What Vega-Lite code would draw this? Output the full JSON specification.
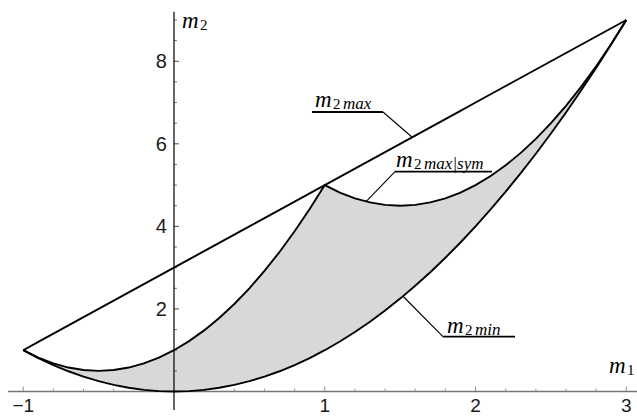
{
  "$schema": "https://vega.github.io/schema/vega-lite/v6.json",
  "width": 637,
  "height": 417,
  "padding": 0,
  "autosize": {"type": "none"},
  "background": "white",
  "config": {"view": {"stroke": null}},
  "datasets": {
    "curves": [
      {"m1": -1.0, "min": 1.00, "sym": 1.00, "max": 1.0},
      {"m1": -0.9, "min": 0.81, "sym": 0.82, "max": 1.2},
      {"m1": -0.8, "min": 0.64, "sym": 0.68, "max": 1.4},
      {"m1": -0.7, "min": 0.49, "sym": 0.58, "max": 1.6},
      {"m1": -0.6, "min": 0.36, "sym": 0.52, "max": 1.8},
      {"m1": -0.5, "min": 0.25, "sym": 0.50, "max": 2.0},
      {"m1": -0.4, "min": 0.16, "sym": 0.52, "max": 2.2},
      {"m1": -0.3, "min": 0.09, "sym": 0.58, "max": 2.4},
      {"m1": -0.2, "min": 0.04, "sym": 0.68, "max": 2.6},
      {"m1": -0.1, "min": 0.01, "sym": 0.82, "max": 2.8},
      {"m1": 0.0, "min": 0.00, "sym": 1.00, "max": 3.0},
      {"m1": 0.1, "min": 0.01, "sym": 1.22, "max": 3.2},
      {"m1": 0.2, "min": 0.04, "sym": 1.48, "max": 3.4},
      {"m1": 0.3, "min": 0.09, "sym": 1.78, "max": 3.6},
      {"m1": 0.4, "min": 0.16, "sym": 2.12, "max": 3.8},
      {"m1": 0.5, "min": 0.25, "sym": 2.50, "max": 4.0},
      {"m1": 0.6, "min": 0.36, "sym": 2.92, "max": 4.2},
      {"m1": 0.7, "min": 0.49, "sym": 3.38, "max": 4.4},
      {"m1": 0.8, "min": 0.64, "sym": 3.88, "max": 4.6},
      {"m1": 0.9, "min": 0.81, "sym": 4.42, "max": 4.8},
      {"m1": 1.0, "min": 1.00, "sym": 5.00, "max": 5.0},
      {"m1": 1.1, "min": 1.21, "sym": 4.82, "max": 5.2},
      {"m1": 1.2, "min": 1.44, "sym": 4.68, "max": 5.4},
      {"m1": 1.3, "min": 1.69, "sym": 4.58, "max": 5.6},
      {"m1": 1.4, "min": 1.96, "sym": 4.52, "max": 5.8},
      {"m1": 1.5, "min": 2.25, "sym": 4.50, "max": 6.0},
      {"m1": 1.6, "min": 2.56, "sym": 4.52, "max": 6.2},
      {"m1": 1.7, "min": 2.89, "sym": 4.58, "max": 6.4},
      {"m1": 1.8, "min": 3.24, "sym": 4.68, "max": 6.6},
      {"m1": 1.9, "min": 3.61, "sym": 4.82, "max": 6.8},
      {"m1": 2.0, "min": 4.00, "sym": 5.00, "max": 7.0},
      {"m1": 2.1, "min": 4.41, "sym": 5.22, "max": 7.2},
      {"m1": 2.2, "min": 4.84, "sym": 5.48, "max": 7.4},
      {"m1": 2.3, "min": 5.29, "sym": 5.78, "max": 7.6},
      {"m1": 2.4, "min": 5.76, "sym": 6.12, "max": 7.8},
      {"m1": 2.5, "min": 6.25, "sym": 6.50, "max": 8.0},
      {"m1": 2.6, "min": 6.76, "sym": 6.92, "max": 8.2},
      {"m1": 2.7, "min": 7.29, "sym": 7.38, "max": 8.4},
      {"m1": 2.8, "min": 7.84, "sym": 7.88, "max": 8.6},
      {"m1": 2.9, "min": 8.41, "sym": 8.42, "max": 8.8},
      {"m1": 3.0, "min": 9.00, "sym": 9.00, "max": 9.0}
    ],
    "axes": [
      {"axis": "x", "x": -1.10, "x2": 3.08, "y": 0, "y2": 0},
      {"axis": "y", "x": 0, "x2": 0, "y": -0.45, "y2": 9.2}
    ],
    "xticks": [
      {"v": -1, "major": true, "label": "−1"},
      {"v": -0.8, "major": false, "label": ""},
      {"v": -0.6, "major": false, "label": ""},
      {"v": -0.4, "major": false, "label": ""},
      {"v": -0.2, "major": false, "label": ""},
      {"v": 0.2, "major": false, "label": ""},
      {"v": 0.4, "major": false, "label": ""},
      {"v": 0.6, "major": false, "label": ""},
      {"v": 0.8, "major": false, "label": ""},
      {"v": 1, "major": true, "label": "1"},
      {"v": 1.2, "major": false, "label": ""},
      {"v": 1.4, "major": false, "label": ""},
      {"v": 1.6, "major": false, "label": ""},
      {"v": 1.8, "major": false, "label": ""},
      {"v": 2, "major": true, "label": "2"},
      {"v": 2.2, "major": false, "label": ""},
      {"v": 2.4, "major": false, "label": ""},
      {"v": 2.6, "major": false, "label": ""},
      {"v": 2.8, "major": false, "label": ""},
      {"v": 3, "major": true, "label": "3"}
    ],
    "yticks": [
      {"v": 0.5, "major": false, "label": ""},
      {"v": 1, "major": false, "label": ""},
      {"v": 1.5, "major": false, "label": ""},
      {"v": 2, "major": true, "label": "2"},
      {"v": 2.5, "major": false, "label": ""},
      {"v": 3, "major": false, "label": ""},
      {"v": 3.5, "major": false, "label": ""},
      {"v": 4, "major": true, "label": "4"},
      {"v": 4.5, "major": false, "label": ""},
      {"v": 5, "major": false, "label": ""},
      {"v": 5.5, "major": false, "label": ""},
      {"v": 6, "major": true, "label": "6"},
      {"v": 6.5, "major": false, "label": ""},
      {"v": 7, "major": false, "label": ""},
      {"v": 7.5, "major": false, "label": ""},
      {"v": 8, "major": true, "label": "8"},
      {"v": 8.5, "major": false, "label": ""},
      {"v": 9, "major": false, "label": ""}
    ],
    "leaders": [
      {"kind": "under", "x": 0.915, "y": 6.771, "x2": 1.386, "y2": 6.771},
      {"kind": "leader", "x": 1.386, "y": 6.771, "x2": 1.58, "y2": 6.16},
      {"kind": "under", "x": 1.466, "y": 5.325, "x2": 2.109, "y2": 5.325},
      {"kind": "leader", "x": 1.466, "y": 5.325, "x2": 1.274, "y2": 4.602},
      {"kind": "under", "x": 1.784, "y": 1.327, "x2": 2.262, "y2": 1.327},
      {"kind": "leader", "x": 1.784, "y": 1.327, "x2": 1.519, "y2": 2.307}
    ],
    "labels": [
      {"x": 0.935, "y": 6.892, "s1": "2", "s2": "max"},
      {"x": 1.473, "y": 5.439, "s1": "2", "s2": "max|sym"},
      {"x": 1.811, "y": 1.417, "s1": "2", "s2": "min"},
      {"x": 2.886, "y": 0.448, "s1": "1", "s2": ""},
      {"x": 0.053, "y": 8.806, "s1": "2", "s2": ""}
    ]
  },
  "layer": [
    {
      "data": {"name": "curves"},
      "mark": {"type": "area", "color": "#d8d8d8", "interpolate": "linear"},
      "encoding": {
        "x": {"field": "m1", "type": "quantitative", "scale": {"domain": [-1.154, 3.071], "nice": false, "zero": false}, "axis": null},
        "y": {"field": "sym", "type": "quantitative", "scale": {"domain": [-0.618, 9.484], "nice": false, "zero": false}, "axis": null},
        "y2": {"field": "min"}
      }
    },
    {
      "data": {"name": "axes"},
      "transform": [{"filter": "datum.axis == 'x'"}],
      "mark": {"type": "rule", "color": "#777777", "strokeWidth": 1.6},
      "encoding": {
        "x": {"field": "x", "type": "quantitative", "scale": {"domain": [-1.154, 3.071], "nice": false, "zero": false}, "axis": null},
        "x2": {"field": "x2"},
        "y": {"field": "y", "type": "quantitative", "scale": {"domain": [-0.618, 9.484], "nice": false, "zero": false}, "axis": null},
        "y2": {"field": "y2"}
      }
    },
    {
      "data": {"name": "xticks"},
      "transform": [{"filter": "datum.major"}],
      "mark": {"type": "tick", "orient": "vertical", "color": "#666666", "size": 5, "thickness": 1, "yOffset": -2.5},
      "encoding": {
        "x": {"field": "v", "type": "quantitative", "scale": {"domain": [-1.154, 3.071], "nice": false, "zero": false}, "axis": null},
        "y": {"datum": 0, "type": "quantitative", "scale": {"domain": [-0.618, 9.484], "nice": false, "zero": false}, "axis": null}
      }
    },
    {
      "data": {"name": "xticks"},
      "transform": [{"filter": "!datum.major"}],
      "mark": {"type": "tick", "orient": "vertical", "color": "#777777", "size": 3, "thickness": 1, "yOffset": -1.5},
      "encoding": {
        "x": {"field": "v", "type": "quantitative", "scale": {"domain": [-1.154, 3.071], "nice": false, "zero": false}, "axis": null},
        "y": {"datum": 0, "type": "quantitative", "scale": {"domain": [-0.618, 9.484], "nice": false, "zero": false}, "axis": null}
      }
    },
    {
      "data": {"name": "yticks"},
      "transform": [{"filter": "datum.major"}],
      "mark": {"type": "tick", "orient": "horizontal", "color": "#000000", "size": 5, "thickness": 1, "xOffset": 2.5},
      "encoding": {
        "x": {"datum": 0, "type": "quantitative", "scale": {"domain": [-1.154, 3.071], "nice": false, "zero": false}, "axis": null},
        "y": {"field": "v", "type": "quantitative", "scale": {"domain": [-0.618, 9.484], "nice": false, "zero": false}, "axis": null}
      }
    },
    {
      "data": {"name": "yticks"},
      "transform": [{"filter": "!datum.major"}],
      "mark": {"type": "tick", "orient": "horizontal", "color": "#333333", "size": 3, "thickness": 1, "xOffset": 1.5},
      "encoding": {
        "x": {"datum": 0, "type": "quantitative", "scale": {"domain": [-1.154, 3.071], "nice": false, "zero": false}, "axis": null},
        "y": {"field": "v", "type": "quantitative", "scale": {"domain": [-0.618, 9.484], "nice": false, "zero": false}, "axis": null}
      }
    },
    {
      "data": {"name": "axes"},
      "transform": [{"filter": "datum.axis == 'y'"}],
      "mark": {"type": "rule", "color": "#000000", "strokeWidth": 1.2},
      "encoding": {
        "x": {"field": "x", "type": "quantitative", "scale": {"domain": [-1.154, 3.071], "nice": false, "zero": false}, "axis": null},
        "x2": {"field": "x2"},
        "y": {"field": "y", "type": "quantitative", "scale": {"domain": [-0.618, 9.484], "nice": false, "zero": false}, "axis": null},
        "y2": {"field": "y2"}
      }
    },
    {
      "data": {"name": "curves"},
      "mark": {"type": "line", "color": "#000000", "strokeWidth": 1.9, "interpolate": "linear"},
      "encoding": {
        "x": {"field": "m1", "type": "quantitative", "scale": {"domain": [-1.154, 3.071], "nice": false, "zero": false}, "axis": null},
        "y": {"field": "min", "type": "quantitative", "scale": {"domain": [-0.618, 9.484], "nice": false, "zero": false}, "axis": null}
      }
    },
    {
      "data": {"name": "curves"},
      "mark": {"type": "line", "color": "#000000", "strokeWidth": 1.9, "interpolate": "linear"},
      "encoding": {
        "x": {"field": "m1", "type": "quantitative", "scale": {"domain": [-1.154, 3.071], "nice": false, "zero": false}, "axis": null},
        "y": {"field": "sym", "type": "quantitative", "scale": {"domain": [-0.618, 9.484], "nice": false, "zero": false}, "axis": null}
      }
    },
    {
      "data": {"name": "curves"},
      "mark": {"type": "line", "color": "#000000", "strokeWidth": 1.9, "interpolate": "linear"},
      "encoding": {
        "x": {"field": "m1", "type": "quantitative", "scale": {"domain": [-1.154, 3.071], "nice": false, "zero": false}, "axis": null},
        "y": {"field": "max", "type": "quantitative", "scale": {"domain": [-0.618, 9.484], "nice": false, "zero": false}, "axis": null}
      }
    },
    {
      "data": {"name": "leaders"},
      "transform": [{"filter": "datum.kind == 'under'"}],
      "mark": {"type": "rule", "color": "#000000", "strokeWidth": 1.8},
      "encoding": {
        "x": {"field": "x", "type": "quantitative", "scale": {"domain": [-1.154, 3.071], "nice": false, "zero": false}, "axis": null},
        "x2": {"field": "x2"},
        "y": {"field": "y", "type": "quantitative", "scale": {"domain": [-0.618, 9.484], "nice": false, "zero": false}, "axis": null},
        "y2": {"field": "y2"}
      }
    },
    {
      "data": {"name": "leaders"},
      "transform": [{"filter": "datum.kind == 'leader'"}],
      "mark": {"type": "rule", "color": "#000000", "strokeWidth": 1.1},
      "encoding": {
        "x": {"field": "x", "type": "quantitative", "scale": {"domain": [-1.154, 3.071], "nice": false, "zero": false}, "axis": null},
        "x2": {"field": "x2"},
        "y": {"field": "y", "type": "quantitative", "scale": {"domain": [-0.618, 9.484], "nice": false, "zero": false}, "axis": null},
        "y2": {"field": "y2"}
      }
    },
    {
      "data": {"name": "xticks"},
      "transform": [{"filter": "datum.major"}],
      "mark": {"type": "text", "font": "Liberation Sans", "fontSize": 19, "color": "#1a1a1a", "align": "center", "baseline": "bottom", "dy": 24.5},
      "encoding": {
        "x": {"field": "v", "type": "quantitative", "scale": {"domain": [-1.154, 3.071], "nice": false, "zero": false}, "axis": null},
        "y": {"datum": 0, "type": "quantitative", "scale": {"domain": [-0.618, 9.484], "nice": false, "zero": false}, "axis": null},
        "text": {"field": "label"}
      }
    },
    {
      "data": {"name": "yticks"},
      "transform": [{"filter": "datum.major"}],
      "mark": {"type": "text", "font": "Liberation Sans", "fontSize": 20, "color": "#1a1a1a", "align": "right", "baseline": "middle", "dx": -7, "dy": 1},
      "encoding": {
        "x": {"datum": 0, "type": "quantitative", "scale": {"domain": [-1.154, 3.071], "nice": false, "zero": false}, "axis": null},
        "y": {"field": "v", "type": "quantitative", "scale": {"domain": [-0.618, 9.484], "nice": false, "zero": false}, "axis": null},
        "text": {"field": "label"}
      }
    },
    {
      "data": {"name": "labels"},
      "mark": {"type": "text", "font": "Liberation Serif", "fontStyle": "italic", "fontSize": 23, "color": "#000000", "align": "left", "baseline": "alphabetic"},
      "encoding": {
        "x": {"field": "x", "type": "quantitative", "scale": {"domain": [-1.154, 3.071], "nice": false, "zero": false}, "axis": null},
        "y": {"field": "y", "type": "quantitative", "scale": {"domain": [-0.618, 9.484], "nice": false, "zero": false}, "axis": null},
        "text": {"value": "m"}
      }
    },
    {
      "data": {"name": "labels"},
      "mark": {"type": "text", "font": "Liberation Serif", "fontSize": 15, "color": "#000000", "align": "left", "baseline": "alphabetic", "dx": 18, "dy": 2},
      "encoding": {
        "x": {"field": "x", "type": "quantitative", "scale": {"domain": [-1.154, 3.071], "nice": false, "zero": false}, "axis": null},
        "y": {"field": "y", "type": "quantitative", "scale": {"domain": [-0.618, 9.484], "nice": false, "zero": false}, "axis": null},
        "text": {"field": "s1"}
      }
    },
    {
      "data": {"name": "labels"},
      "mark": {"type": "text", "font": "Liberation Serif", "fontStyle": "italic", "fontSize": 17, "color": "#000000", "align": "left", "baseline": "alphabetic", "dx": 28, "dy": 2},
      "encoding": {
        "x": {"field": "x", "type": "quantitative", "scale": {"domain": [-1.154, 3.071], "nice": false, "zero": false}, "axis": null},
        "y": {"field": "y", "type": "quantitative", "scale": {"domain": [-0.618, 9.484], "nice": false, "zero": false}, "axis": null},
        "text": {"field": "s2"}
      }
    }
  ]
}
